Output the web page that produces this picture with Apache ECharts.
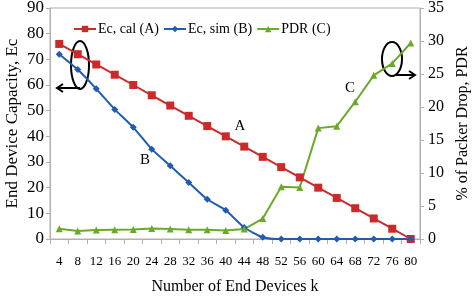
<!DOCTYPE html>
<html>
<head>
<meta charset="utf-8">
<script src="https://cdn.jsdelivr.net/npm/echarts@6/dist/echarts.min.js"></script>
<style>
html,body{margin:0;padding:0;background:#fff;}
#main{width:472px;height:296px;}
</style>
</head>
<body>
<div id="main"></div>
<script>
var kLabels = ['4','8','12','16','20','24','28','32','36','40','44','48','52','56','60','64','68','72','76','80'];
var ecCal = [76,72,68,64,60,56,52,48,44,40,36,32,28,24,20,16,12,8,4,0];
var ecSim = [72,66,58.5,50.5,43.5,35,28.5,22,15.5,11.2,4.5,0.7,0,0,0,0,0,0,0,0];
var pdr = [1.55,1.2,1.35,1.4,1.45,1.6,1.5,1.4,1.4,1.3,1.5,3.1,7.9,7.8,16.8,17.1,20.8,24.8,26.6,29.7];

var font = 'Liberation Serif';
var chart = echarts.init(document.getElementById('main'));

// 箭头
function arrow(x1, y1, x2, y2, dir) {
	return [
		{
			type: 'polyline',
			shape: { points: [[x1, y1], [x2, y2]] },
			style: { stroke: '#000', lineWidth: 2, fill: null }
		},
		{
			type: 'polyline',
			shape: { points: [[x2 - dir * 6, y2 - 4], [x2, y2], [x2 - dir * 6, y2 + 4]] },
			style: { stroke: '#000', lineWidth: 2, fill: null }
		}
	];
}

var graphics = [
	{ type: 'ellipse', shape: { cx: 80, cy: 65, rx: 9, ry: 24 }, style: { stroke: '#000', lineWidth: 2, fill: null } },
	{ type: 'ellipse', shape: { cx: 392, cy: 59, rx: 10, ry: 17 }, style: { stroke: '#000', lineWidth: 2, fill: null } },
	{ type: 'text', x: 240, y: 126, style: { text: 'A', font: '15px ' + font, fill: '#000', align: 'center', verticalAlign: 'middle' } },
	{ type: 'text', x: 145, y: 160, style: { text: 'B', font: '15px ' + font, fill: '#000', align: 'center', verticalAlign: 'middle' } },
	{ type: 'text', x: 350, y: 88, style: { text: 'C', font: '15px ' + font, fill: '#000', align: 'center', verticalAlign: 'middle' } }
].concat(arrow(80, 88, 57, 88, -1)).concat(arrow(396, 75, 415, 75, 1));

chart.setOption({
	animation: false,
	textStyle: { fontFamily: font, color: '#000' },
	grid: {
		left: 50, right: 52, top: 8, bottom: 57,
		outerBoundsMode: 'none', containLabel: false,
		show: true, borderColor: '#b0b0b0', borderWidth: 1
	},
	legend: {
		left: 68, top: 17,
		itemGap: 4, itemWidth: 22, itemHeight: 8,
		textStyle: { fontFamily: font, fontSize: 14, color: '#000', padding: [0, 0, 0, -3] },
		data: ['Ec, cal (A)', 'Ec, sim (B)', 'PDR (C)']
	},
	xAxis: {
		type: 'category',
		data: kLabels,
		boundaryGap: true,
		name: 'Number of End Devices k',
		nameLocation: 'middle',
		nameGap: 40,
		nameTextStyle: { fontFamily: font, fontSize: 16, color: '#000' },
		axisLine: { lineStyle: { color: '#b0b0b0' } },
		axisTick: { show: true, length: 5, lineStyle: { color: '#b0b0b0' } },
		axisLabel: { fontFamily: font, fontSize: 13, color: '#000', margin: 16, interval: 0 }
	},
	yAxis: [
		{
			type: 'value', min: 0, max: 90, interval: 10,
			name: 'End Device Capacity, Ec',
			nameLocation: 'middle', nameGap: 29, nameMoveOverlap: false,
			nameTextStyle: { fontFamily: font, fontSize: 17, color: '#000' },
			axisLine: { show: true, lineStyle: { color: '#b0b0b0' } },
			axisTick: { show: true, length: 4, lineStyle: { color: '#b0b0b0' } },
			axisLabel: { fontFamily: font, fontSize: 17, color: '#000', margin: 6 },
			splitLine: { show: false }
		},
		{
			type: 'value', min: 0, max: 35, interval: 5,
			name: '% of Packer Drop, PDR',
			nameLocation: 'middle', nameGap: 33,
			nameTextStyle: { fontFamily: font, fontSize: 16, color: '#000' },
			axisLine: { show: true, lineStyle: { color: '#b0b0b0' } },
			axisTick: { show: true, length: 4, lineStyle: { color: '#b0b0b0' } },
			axisLabel: { fontFamily: font, fontSize: 16, color: '#000', margin: 8 },
			splitLine: { show: false }
		}
	],
	series: [
		{
			name: 'Ec, cal (A)', type: 'line', data: ecCal, yAxisIndex: 0,
			symbol: 'rect', symbolSize: 8,
			lineStyle: { color: '#cc2a2a', width: 2 },
			itemStyle: { color: '#cc2a2a' }
		},
		{
			name: 'Ec, sim (B)', type: 'line', data: ecSim, yAxisIndex: 0,
			symbol: 'diamond', symbolSize: 7, smooth: 0.2,
			lineStyle: { color: '#1f5cb0', width: 2 },
			itemStyle: { color: '#1f5cb0' }
		},
		{
			name: 'PDR (C)', type: 'line', data: pdr, yAxisIndex: 1,
			symbol: 'triangle', symbolSize: 7,
			lineStyle: { color: '#6aaa2a', width: 2 },
			itemStyle: { color: '#6aaa2a' }
		}
	],
	graphic: graphics
});
</script>
</body>
</html>
